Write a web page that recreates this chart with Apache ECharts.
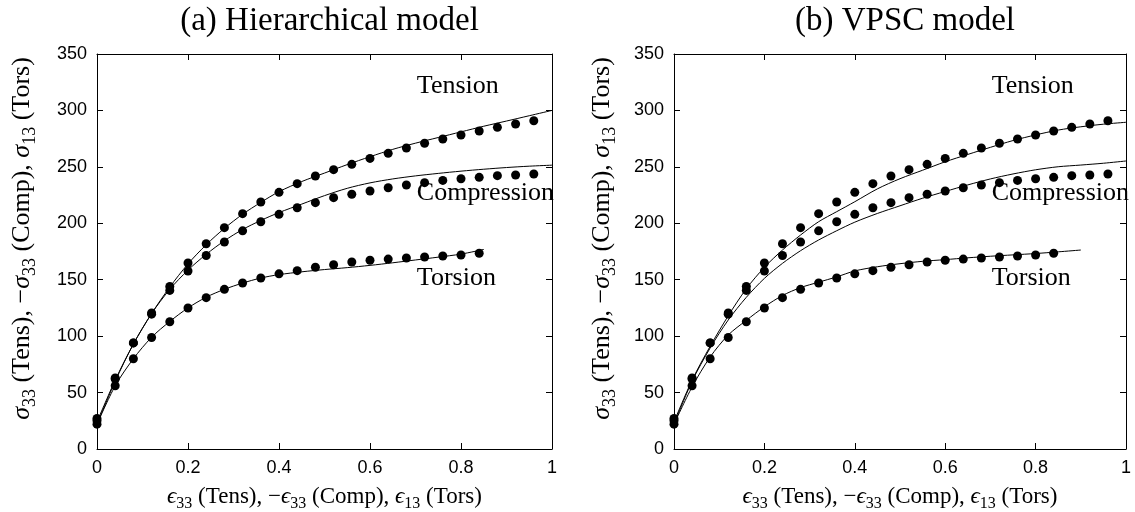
<!DOCTYPE html>
<html><head><meta charset="utf-8">
<script src="https://cdn.jsdelivr.net/npm/echarts@6/dist/echarts.min.js"></script>
<style>html,body{margin:0;padding:0;background:#fff}#c{width:1135px;height:512px}</style>
</head><body><div id="c"></div>
<script>
// ---------- data ----------
const panelTitles = ['(a) Hierarchical model', '(b) VPSC model'];
const curveNames = ['Tension', 'Compression', 'Torsion'];
const xTicks = [0, 0.2, 0.4, 0.6, 0.8, 1];

// experimental points (same in both panels)
const expStrain = [0, 0.04, 0.08, 0.12, 0.16, 0.20, 0.24, 0.28, 0.32, 0.36, 0.40, 0.44, 0.48, 0.52, 0.56, 0.60, 0.64, 0.68, 0.72, 0.76, 0.80, 0.84, 0.88, 0.92, 0.96];
const expTension = [27, 63, 94, 120.5, 144, 164.8, 181.9, 196.1, 208.5, 218.9, 227.4, 235.1, 241.9, 247.5, 252.2, 257.5, 262, 266.7, 270.9, 274.7, 278.2, 281.8, 285, 288, 290.9];
const expCompression = [25, 62, 94, 119.5, 140.5, 157.7, 171.5, 183.4, 193.3, 201.4, 207.9, 213.8, 218.3, 222.7, 225.7, 228.6, 231.5, 233.9, 236, 238, 239.5, 240.7, 242.2, 242.8, 243.7];
const expTorsion = [22, 56, 80, 98.8, 112.8, 124.9, 134.1, 141.5, 147.1, 151.5, 155.2, 158, 161, 163.3, 165.7, 167.2, 168.3, 169.2, 170.1, 171, 171.9, 173.4];

// model curves
const modelStrain = [0, 0.04, 0.08, 0.12, 0.16, 0.20, 0.24, 0.28, 0.32, 0.36, 0.40, 0.45, 0.50, 0.55, 0.60, 0.65, 0.70, 0.75, 0.80, 0.85, 0.90, 0.95, 1.00];
const hierTension = [24, 61, 93, 120, 143.5, 164, 181, 195.5, 208, 218.5, 228, 237, 244.5, 252, 259, 265.5, 271, 276, 281, 286, 290.6, 295.3, 300];
const hierCompression = [22, 60, 93, 120, 141.5, 158.5, 172.5, 184.5, 194.5, 202.5, 209.5, 217, 224.5, 231, 235.8, 239.3, 242, 244.2, 246.2, 247.9, 249.4, 250.6, 251.5];
const hierTorsion = [22, 56, 80, 99, 113, 125, 134.5, 141.5, 147, 151.5, 154.5, 157, 159, 160.7, 162.7, 165, 167.5, 170, 172.7, 176.8];
const vpscTension = [24, 61, 91, 118, 142, 161, 176.3, 189.6, 201.4, 210.3, 219.1, 230.5, 239.5, 247, 254.5, 261, 267.3, 273.3, 278.3, 282.6, 285.5, 287.8, 289.5];
const vpscCompression = [22, 60, 89.5, 114.3, 134.4, 151.2, 164.5, 175.7, 185.2, 193.4, 201, 208.7, 215.5, 222.2, 228.2, 234, 239.3, 243.7, 247.4, 250.1, 251.6, 253.2, 255.2];
const vpscTorsion = [22, 55, 81.5, 101, 114, 126, 136, 143, 147.8, 152.5, 157.8, 161.5, 164.2, 166.3, 167.8, 169.4, 170.8, 172, 173.2, 174.7, 176.3];

// ---------- layout / style ----------
const annotAnchorX = 0.703;
const annotAnchorY = [321.6, 226.8, 151.5];
const grids = [
  {left: 97, right: 583, top: 54, bottom: 63, outerBoundsMode: 'none', containLabel: false},
  {left: 674, right: 9, top: 54, bottom: 63, outerBoundsMode: 'none', containLabel: false}
];
const serif = 'Liberation Serif';
const sans = 'Liberation Sans';

function zip(xs, ys) { return ys.map((y, i) => [xs[i], y]); }

const richName = (size) => ({
  r: {fontFamily: serif, fontSize: size, lineHeight: size + 8, color: '#000'},
  i: {fontFamily: serif, fontStyle: 'italic', fontSize: size, lineHeight: size + 8, color: '#000'},
  s: {fontFamily: serif, fontSize: Math.round(size * 0.68), lineHeight: Math.round(size * 0.68), verticalAlign: 'bottom', color: '#000'}
});
const xName = '{i|ϵ}{s|33}{r| (Tens), −}{i|ϵ}{s|33}{r| (Comp), }{i|ϵ}{s|13}{r| (Tors)}';
const yName = '{i|σ}{s|33}{r| (Tens), −}{i|σ}{s|33}{r| (Comp), }{i|σ}{s|13}{r| (Tors)}';

const tickStyle = {show: true, inside: true, length: 6, lineStyle: {color: '#000', width: 1}};
const lineStyleAxis = {show: true, onZero: false, lineStyle: {color: '#000', width: 1}};

const xAxes = [], yAxes = [];
const yGaps = [58, 55];
grids.forEach((g, gi) => {
  xAxes.push({
    gridIndex: gi, type: 'value', min: 0, max: 1, interval: 0.2, position: 'bottom',
    axisLine: lineStyleAxis, axisTick: tickStyle,
    axisLabel: {color: '#000', fontFamily: sans, fontSize: 18, margin: 10,
      formatter: v => (v === 0 ? '0' : v === 1 ? '1' : v.toFixed(1))},
    splitLine: {show: false},
    name: xName, nameLocation: 'middle', nameGap: 32,
    nameTextStyle: {rich: richName(23)}
  });
  xAxes.push({
    gridIndex: gi, type: 'value', min: 0, max: 1, interval: 0.2, position: 'top',
    axisLine: lineStyleAxis, axisTick: tickStyle,
    axisLabel: {show: false}, splitLine: {show: false}
  });
  yAxes.push({
    gridIndex: gi, type: 'value', min: 0, max: 350, interval: 50, position: 'left',
    axisLine: lineStyleAxis, axisTick: tickStyle,
    axisLabel: {color: '#000', fontFamily: sans, fontSize: 18, margin: 10},
    splitLine: {show: false},
    name: yName, nameLocation: 'middle', nameGap: yGaps[gi], nameRotate: 90,
    nameTextStyle: {rich: richName(26), padding: [0, 0, 0, 26]}
  });
  yAxes.push({
    gridIndex: gi, type: 'value', min: 0, max: 350, interval: 50, position: 'right',
    axisLine: lineStyleAxis, axisTick: tickStyle,
    axisLabel: {show: false}, splitLine: {show: false}
  });
});

const modelSets = [
  [hierTension, hierCompression, hierTorsion],
  [vpscTension, vpscCompression, vpscTorsion]
];
const expSets = [expTension, expCompression, expTorsion];

const series = [];
[0, 1].forEach(gi => {
  const xi = gi * 2, yi = gi * 2;
  modelSets[gi].forEach((vals, k) => {
    series.push({
      type: 'line', name: curveNames[k] + ' model', xAxisIndex: xi, yAxisIndex: yi,
      data: zip(modelStrain, vals), showSymbol: false, symbol: 'none', smooth: 0.3,
      lineStyle: {color: '#000', width: 1}, silent: true, animation: false, z: 2
    });
  });
  expSets.forEach((vals, k) => {
    series.push({
      type: 'scatter', name: curveNames[k] + ' exp', xAxisIndex: xi, yAxisIndex: yi,
      data: zip(expStrain, vals), symbol: 'circle', symbolSize: 9,
      itemStyle: {color: '#000', opacity: 1}, silent: true, animation: false, z: 3
    });
  });
});

const chart = echarts.init(document.getElementById('c'));
chart.setOption({
  animation: false,
  backgroundColor: '#fff',
  title: panelTitles.map((t, gi) => ({
    text: t, left: (grids[gi].left + (1135 - grids[gi].right)) / 2, top: 0, textAlign: 'center',
    textStyle: {fontFamily: serif, fontSize: 33, fontWeight: 'normal', color: '#000'}
  })),
  grid: grids,
  xAxis: xAxes,
  yAxis: yAxes,
  series: series
});

const graphics = [];
[0, 1].forEach(gi => {
  curveNames.forEach((n, k) => {
    const p = chart.convertToPixel({xAxisIndex: gi * 2, yAxisIndex: gi * 2}, [annotAnchorX, annotAnchorY[k]]);
    graphics.push({type: 'text', x: p[0], y: p[1], z: 10,
      style: {text: n, fontFamily: serif, fontSize: 26, fill: '#000', align: 'left', verticalAlign: 'middle'}});
  });
});
chart.setOption({graphic: graphics});
</script></body></html>
